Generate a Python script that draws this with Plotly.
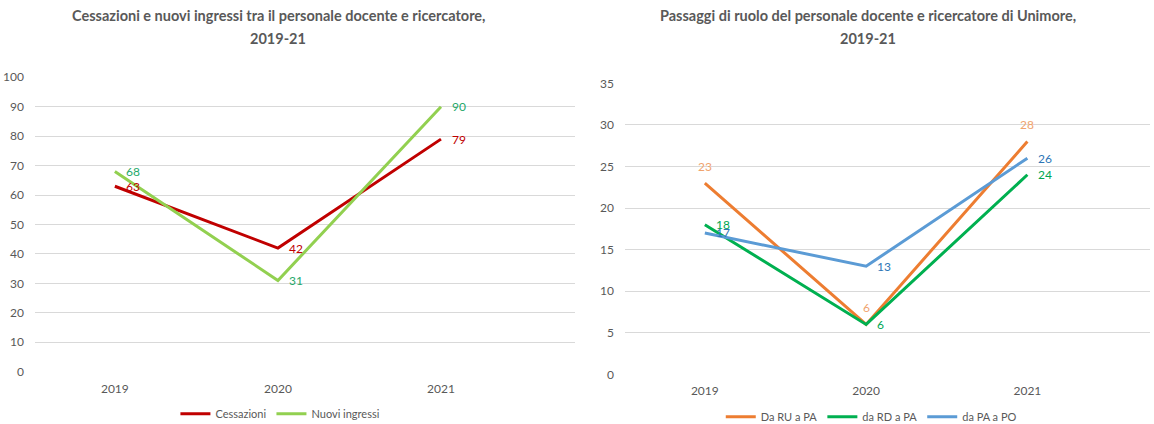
import plotly.graph_objects as go

# Categories and series
years = ["2019", "2020", "2021"]

cessazioni = [63, 42, 79]
nuovi_ingressi = [68, 31, 90]

ru_pa = [23, 6, 28]
rd_pa = [18, 6, 24]
pa_po = [17, 13, 26]

left_ticks = [0, 10, 20, 30, 40, 50, 60, 70, 80, 90, 100]
right_ticks = [0, 5, 10, 15, 20, 25, 30, 35]

FONT = "Lato"
GREY = "#595959"
GRID = "#D9D9D9"

fig = go.Figure()
labels = []

xi = [0, 1, 2]


def add_series(values, name, line_color, label_color, axis, legend, pos):
    fig.add_trace(go.Scatter(
        x=xi, y=values, name=name, mode="lines",
        line=dict(color=line_color, width=3),
        xaxis="x" + axis, yaxis="y" + axis, legend=legend,
        hoverinfo="skip",
    ))
    # data labels, placed next to (right) or above (top) each point
    for x, v in zip(xi, values):
        a = dict(x=x, y=v, text=str(v), xref="x" + axis, yref="y" + axis,
                 showarrow=False, yanchor="middle",
                 font=dict(family=FONT, size=12, color=label_color))
        if pos == "right":
            a.update(xanchor="left", xshift=9)
        else:
            a.update(xanchor="center", yshift=17)
        labels.append(a)


add_series(cessazioni, "Cessazioni", "#C00000", "#C00000", "", "legend", "right")
add_series(nuovi_ingressi, "Nuovi ingressi", "#92D050", "#1FA86A", "", "legend", "right")

add_series(ru_pa, "Da RU a PA", "#ED7D31", "#F0A36E", "2", "legend2", "top")
add_series(rd_pa, "da RD a PA", "#00B050", "#00A651", "2", "legend2", "right")
add_series(pa_po, "da PA a PO", "#5B9BD5", "#2E75B6", "2", "legend2", "right")

axis_common = dict(
    showline=False, zeroline=False, ticks="", automargin=False,
    tickfont=dict(family=FONT, size=12, color=GREY),
)

titles = [
    ("Cessazioni e nuovi ingressi tra il personale docente e ricercatore,", 278, 16),
    ("2019-21", 278, 39),
    ("Passaggi di ruolo del personale docente e ricercatore di Unimore,", 868, 16),
    ("2019-21", 868, 39),
]
title_ann = [
    dict(text="<b>%s</b>" % t, x=cx / 1154, y=1 - cy / 424, xref="paper", yref="paper",
         xanchor="center", yanchor="middle", showarrow=False,
         font=dict(family=FONT, size=14.5, color=GREY))
    for t, cx, cy in titles
]

fig.update_layout(
    width=1154, height=424,
    margin=dict(l=0, r=0, t=0, b=0, autoexpand=False),
    paper_bgcolor="white", plot_bgcolor="white",
    showlegend=True,
    xaxis=dict(domain=[0.0303, 0.498], range=[-0.49, 2.82], tickvals=xi, ticktext=years,
               showgrid=False, anchor="y", ticklabelstandoff=8, **axis_common),
    yaxis=dict(domain=[0.1233, 0.8177], range=[0, 100], tickvals=left_ticks,
               showgrid=True, gridcolor=GRID, gridwidth=1, anchor="x",
               ticklabelstandoff=10, **axis_common),
    xaxis2=dict(domain=[0.5416, 0.9965], range=[-0.495, 2.76], tickvals=xi, ticktext=years,
                showgrid=False, anchor="y2", ticklabelstandoff=8, **axis_common),
    yaxis2=dict(domain=[0.1172, 0.8035], range=[0, 35], tickvals=right_ticks,
                showgrid=True, gridcolor=GRID, gridwidth=1, anchor="x2",
                ticklabelstandoff=10, **axis_common),
    legend=dict(orientation="h", x=0.243, xref="paper", y=0.024, yref="paper",
                xanchor="center", yanchor="middle",
                font=dict(family=FONT, size=11, color=GREY), bgcolor="rgba(0,0,0,0)"),
    legend2=dict(orientation="h", x=0.755, xref="paper", y=0.017, yref="paper",
                 xanchor="center", yanchor="middle",
                 font=dict(family=FONT, size=11, color=GREY), bgcolor="rgba(0,0,0,0)"),
    annotations=title_ann + labels,
)

fig.write_html("out.html")
